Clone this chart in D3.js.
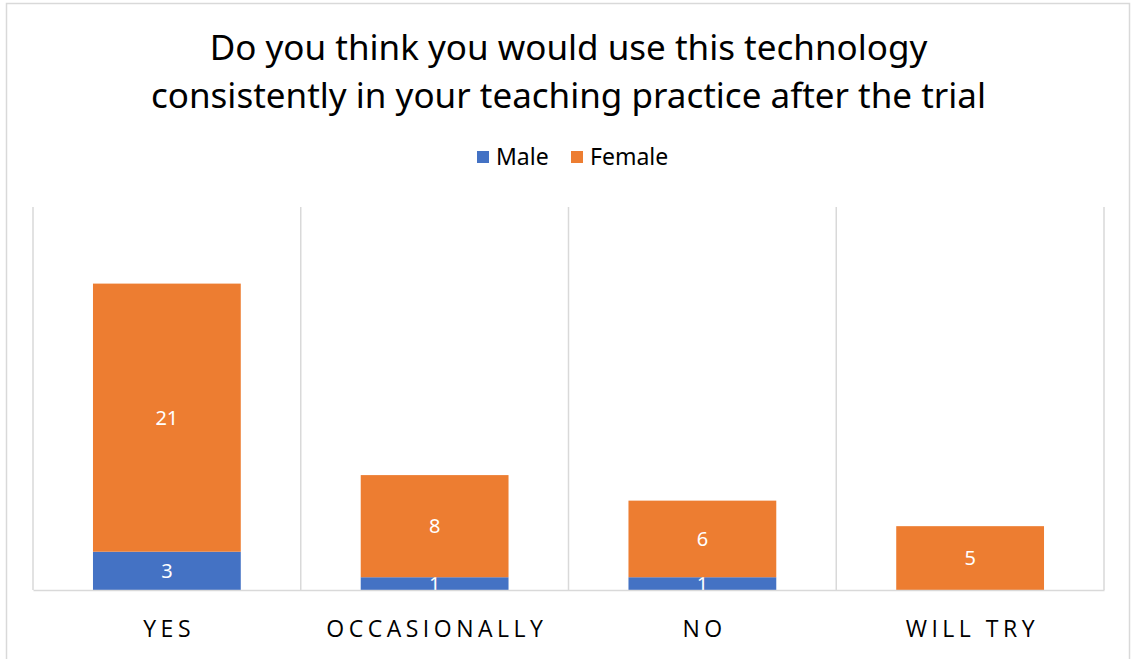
<!DOCTYPE html>
<html><head><meta charset="utf-8">
<script src="https://cdn.jsdelivr.net/npm/d3@7"></script>
<style>
html,body{margin:0;padding:0;background:#fff;}
svg{display:block;}
</style></head>
<body>
<svg id="chart" width="1132" height="659"></svg>
<script>
const categories = ["YES", "OCCASIONALLY", "NO", "WILL TRY"];
const male = [3, 1, 1, 0];
const female = [21, 8, 6, 5];
const seriesNames = ["Male", "Female"];
const seriesColors = ["#4472C4", "#ED7D31"];
const titleLines = ["Do you think you would use this technology", "consistently in your teaching practice after the trial"];
const yMax = 30;

const svg = d3.select("#chart");
const W = 1132, H = 659;
const margin = {left: 33, right: 28, top: 207, bottom: 69};
const plotW = W - margin.left - margin.right;
const plotH = H - margin.top - margin.bottom;

// outer border
svg.append("rect").attr("x", 6.5).attr("y", 3.5).attr("width", 1123).attr("height", 700)
  .attr("fill", "#fff").attr("stroke", "#d9d9d9").attr("stroke-width", 1.5);

const titleFont = "'Noto Sans', sans-serif";
const t = svg.append("text").attr("text-anchor", "middle")
  .attr("font-family", titleFont).attr("font-size", 35).attr("fill", "#000");
titleLines.forEach((l, i) => {
  t.append("tspan").attr("x", margin.left + plotW / 2).attr("y", 60 + i * 48).text(l);
});

const g = svg.append("g").attr("transform", `translate(${margin.left},${margin.top})`);

const x = d3.scaleBand().domain(categories).range([0, plotW]).paddingInner(0.448).paddingOuter(0.224);
const xb = d3.scaleBand().domain(categories).range([0, plotW]);
const y = d3.scaleLinear().domain([0, yMax]).range([plotH, 0]);

// vertical category gridlines
const bounds = categories.map(c => xb(c)).concat([plotW]);
g.selectAll("line.vg").data(bounds).enter().append("line")
  .attr("x1", d => d).attr("x2", d => d).attr("y1", 0).attr("y2", plotH)
  .attr("stroke", "#d9d9d9").attr("stroke-width", 1.5);

const data = categories.map((c, i) => ({cat: c, Male: male[i], Female: female[i]}));
const stack = d3.stack().keys(seriesNames)(data);

stack.forEach((s, si) => {
  const grp = g.append("g");
  grp.selectAll("rect").data(s).enter().append("rect")
    .attr("x", d => x(d.data.cat)).attr("width", x.bandwidth())
    .attr("y", d => y(d[1])).attr("height", d => y(d[0]) - y(d[1]))
    .attr("fill", seriesColors[si]);
  grp.selectAll("text").data(s.filter(d => d[1] - d[0] > 0)).enter().append("text")
    .attr("x", d => x(d.data.cat) + x.bandwidth() / 2)
    .attr("y", d => (y(d[0]) + y(d[1])) / 2)
    .attr("dy", "0.36em").attr("text-anchor", "middle")
    .attr("font-family", titleFont).attr("font-size", 20).attr("fill", "#fff")
    .text(d => d[1] - d[0]);
});

// x axis
const ls = 4.5;
const xAxis = g.append("g").attr("transform", `translate(0,${plotH})`)
  .call(d3.axisBottom(xb).tickSize(0).tickPadding(31));
xAxis.select(".domain").attr("stroke", "#d9d9d9").attr("stroke-width", 1.5);
xAxis.selectAll("text").attr("font-family", "'Open Sans', sans-serif").attr("font-size", 23)
  .attr("letter-spacing", ls + "px").attr("dx", ls / 2).attr("fill", "#000");

// legend
const legend = svg.append("g");
const legX = [477, 571];
seriesNames.forEach((n, i) => {
  legend.append("rect").attr("x", legX[i]).attr("y", 151).attr("width", 12).attr("height", 12).attr("fill", seriesColors[i]);
  legend.append("text").attr("x", legX[i] + 19).attr("y", 164.5)
    .attr("font-family", titleFont).attr("font-size", 23).attr("fill", "#000").text(n);
});
</script>
</body></html>
